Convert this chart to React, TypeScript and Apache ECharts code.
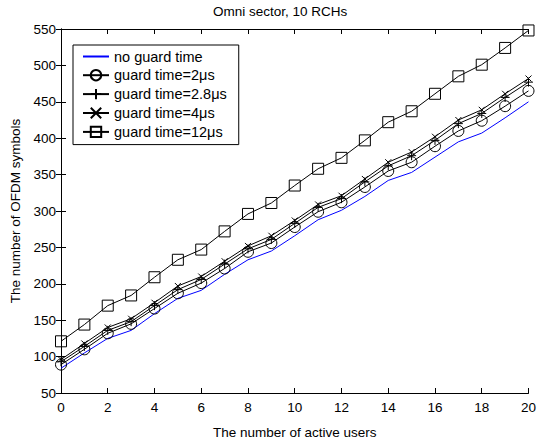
import React, { useEffect, useRef } from "react";
import * as echarts from "echarts";

const users = [0, 1, 2, 3, 4, 5, 6, 7, 8, 9, 10, 11, 12, 13, 14, 15, 16, 17, 18, 19, 20];
const noGuard = [84, 105, 125, 136, 159, 180, 191, 213, 233, 245, 266, 288, 301, 320, 342, 353, 374, 395, 407, 428, 450];
const guard2 = [89, 110, 132, 145, 166, 187, 201, 221, 244, 256, 278, 299, 312, 333, 355, 367, 389, 410, 424, 444, 465];
const guard28 = [93, 114, 136, 148, 170, 192, 206, 227, 248, 261, 283, 305, 317, 340, 362, 376, 397, 420, 434, 456, 477];
const guard4 = [96, 118, 140, 152, 174, 197, 210, 231, 252, 266, 287, 309, 321, 344, 367, 381, 402, 425, 439, 461, 482];
const guard12 = [121, 144, 170, 184, 209, 233, 247, 272, 296, 311, 335, 358, 373, 397, 422, 437, 461, 485, 501, 524, 548];
const seriesNames = ["no guard time", "guard time=2\u03bcs", "guard time=2.8\u03bcs", "guard time=4\u03bcs", "guard time=12\u03bcs"];

const FONT = "'Liberation Sans', Arial, Helvetica, sans-serif";

export default function App() {
  const ref = useRef<HTMLDivElement>(null);
  useEffect(() => {
    if (!ref.current) return;
    const chart = echarts.init(ref.current, null, { renderer: "svg" });
    const pair = (arr: number[]) => users.map((u, i) => [u, arr[i]]);
    const blackLine = { color: "#000", width: 1 };
    const markerStyle = { color: "none", borderColor: "#000", borderWidth: 1 };
    const axisCommon = {
      type: "value" as const,
      axisLine: { show: true, lineStyle: { color: "#000", width: 1 } },
      axisTick: { show: true, inside: true, length: 5, lineStyle: { color: "#000" } },
      splitLine: { show: false },
    };
    chart.setOption({
      animation: false,
      backgroundColor: "#fff",
      textStyle: { fontFamily: FONT },
      title: {
        text: "Omni sector, 10 RCHs",
        left: 213,
        top: 4,
        padding: 0,
        textStyle: { fontFamily: FONT, fontSize: 13.5, fontWeight: "normal", color: "#000" },
      },
      legend: {
        orient: "vertical",
        left: 73,
        top: 45,
        padding: [4, 12, 5, 9],
        borderColor: "#000",
        borderWidth: 1,
        backgroundColor: "#fff",
        itemWidth: 26,
        itemHeight: 13,
        itemGap: 3.5,
        textStyle: { fontFamily: FONT, fontSize: 14.5, color: "#000" },
        data: [
          { name: seriesNames[0], itemStyle: { opacity: 0 } },
          seriesNames[1],
          seriesNames[2],
          seriesNames[3],
          seriesNames[4],
        ],
      },
      grid: { left: 55, right: 7, top: 29, bottom: 41, containLabel: false },
      xAxis: [
        {
          ...axisCommon,
          min: 0,
          max: 20,
          interval: 2,
          position: "bottom",
          name: "The number of active users",
          nameLocation: "middle",
          nameGap: 32,
          nameTextStyle: { fontFamily: FONT, fontSize: 13.5, color: "#000" },
          axisLabel: { color: "#000", fontFamily: FONT, fontSize: 13.5, margin: 7 },
        },
        {
          ...axisCommon,
          min: 0,
          max: 20,
          interval: 2,
          position: "top",
          axisLabel: { show: false },
        },
      ],
      yAxis: [
        {
          ...axisCommon,
          min: 50,
          max: 550,
          interval: 50,
          position: "left",
          name: "The number of OFDM symbols",
          nameLocation: "middle",
          nameGap: 39,
          nameTextStyle: { fontFamily: FONT, fontSize: 13.5, color: "#000" },
          axisLabel: { color: "#000", fontFamily: FONT, fontSize: 13.5, margin: 5 },
        },
        {
          ...axisCommon,
          min: 50,
          max: 550,
          interval: 50,
          position: "right",
          axisLabel: { show: false },
        },
      ],
      series: [
        {
          name: seriesNames[0],
          type: "line",
          data: pair(noGuard),
          symbol: "none",
          lineStyle: { color: "#0000ff", width: 1 },
          itemStyle: { color: "#0000ff" },
          z: 1,
        },
        {
          name: seriesNames[1],
          type: "line",
          data: pair(guard2),
          symbol: "circle",
          symbolSize: 11,
          lineStyle: blackLine,
          itemStyle: markerStyle,
        },
        {
          name: seriesNames[2],
          type: "line",
          data: pair(guard28),
          symbol: "path://M0,-1V1M-1,0H1",
          symbolSize: 9,
          lineStyle: blackLine,
          itemStyle: markerStyle,
        },
        {
          name: seriesNames[3],
          type: "line",
          data: pair(guard4),
          symbol: "path://M-1,-1L1,1M-1,1L1,-1",
          symbolSize: 6,
          lineStyle: blackLine,
          itemStyle: markerStyle,
        },
        {
          name: seriesNames[4],
          type: "line",
          data: pair(guard12),
          symbol: "rect",
          symbolSize: 11,
          lineStyle: blackLine,
          itemStyle: markerStyle,
        },
      ],
    });
    return () => chart.dispose();
  }, []);
  return <div ref={ref} style={{ position: "fixed", left: 0, top: 0, width: 539, height: 444 }} />;
}
